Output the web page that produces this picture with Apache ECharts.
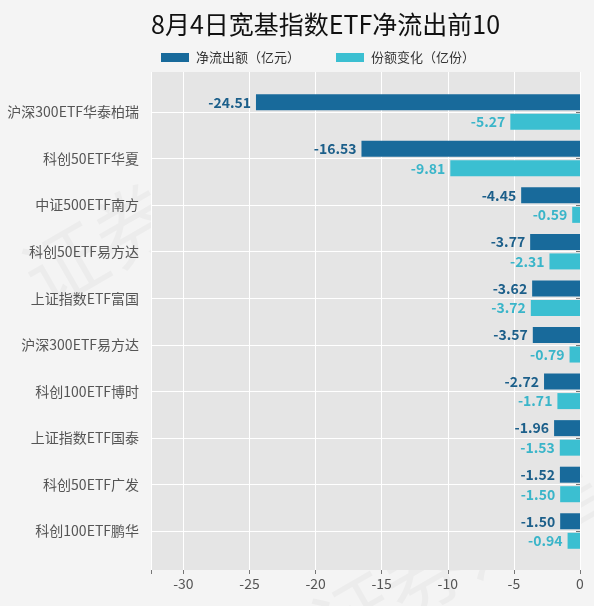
<!DOCTYPE html>
<html>
<head>
<meta charset="utf-8">
<script src="https://cdn.jsdelivr.net/npm/echarts@6/dist/echarts.min.js"></script>
<style>
  html, body { margin: 0; padding: 0; background: #f4f4f4; }
  #chart { width: 594px; height: 606px; }
</style>
</head>
<body>
<div id="chart"></div>
<script>
// 8月4日宽基指数ETF净流出前10
const categories = ['沪深300ETF华泰柏瑞', '科创50ETF华夏', '中证500ETF南方', '科创50ETF易方达', '上证指数ETF富国',
	'沪深300ETF易方达', '科创100ETF博时', '上证指数ETF国泰', '科创50ETF广发', '科创100ETF鹏华']
const netOutflow = [-24.51, -16.53, -4.45, -3.77, -3.62, -3.57, -2.72, -1.96, -1.52, -1.50]
const shareChange = [-5.27, -9.81, -0.59, -2.31, -3.72, -0.79, -1.71, -1.53, -1.50, -0.94]
const seriesNames = ['净流出额（亿元）', '份额变化（亿份）']
const xMin = -32.45
const xMax = 0

const FONT = '"Noto Sans CJK SC", "Noto Sans", sans-serif'
const DARK = '#186a9b'
const CYAN = '#3bbfd1'

const chart = echarts.init(document.getElementById('chart'))

const barLabel = (color) => ({
	show: true,
	position: 'left',
	distance: 5,
	color: color,
	fontSize: 14,
	fontWeight: 'bold',
	fontFamily: FONT,
	formatter: p => p.value.toFixed(2)
})

const option = {
	backgroundColor: '#f4f4f4',
	textStyle: { fontFamily: FONT },
	title: {
		text: '8月4日宽基指数ETF净流出前10',
		left: 146,
		top: 7,
		textStyle: { fontSize: 25, fontWeight: 'normal', color: '#111', fontFamily: FONT }
	},
	legend: {
		left: 156,
		top: 46,
		itemWidth: 28,
		itemHeight: 9,
		itemGap: 36,
		icon: 'rect',
		textStyle: { fontSize: 13, color: '#333', fontFamily: FONT, padding: [0, 0, 0, 2] },
		data: seriesNames
	},
	graphic: [
		{ type: 'text', left: 10, top: 90, rotation: Math.PI / 6, silent: true, z: -1,
			style: { text: '证券之星', fontSize: 80, fontFamily: FONT, fill: 'rgba(0,0,0,0.03)' } },
		{ type: 'text', left: 300, top: 440, rotation: Math.PI / 6, silent: true, z: -1,
			style: { text: '证券之星', fontSize: 80, fontFamily: FONT, fill: 'rgba(0,0,0,0.03)' } }
	],
	grid: [
		// panel
		{ left: 151, right: 14, top: 72, bottom: 36, show: true, backgroundColor: '#e5e5e5', borderWidth: 0 },
		// bars
		{ left: 151, right: 14, top: 88.7, bottom: 51.7 }
	],
	xAxis: [
		{
			gridIndex: 0, type: 'value', min: xMin, max: xMax,
			axisLine: { show: false },
			axisTick: { show: true, length: 4, lineStyle: { color: '#777' } },
			axisLabel: { color: '#555', fontSize: 14, margin: 7, formatter: v => (v % 5 === 0 ? String(v) : '') },
			splitLine: { show: true, lineStyle: { color: '#ffffff', width: 1 } }
		},
		{
			gridIndex: 1, type: 'value', min: xMin, max: xMax, show: false,
			splitLine: { show: false }
		}
	],
	yAxis: [
		{
			gridIndex: 0, type: 'value', show: false, splitLine: { show: false }
		},
		{
			gridIndex: 1, type: 'category', inverse: true, data: categories,
			axisLine: { show: false },
			axisTick: { show: true, length: 4, alignWithLabel: true, lineStyle: { color: '#777' } },
			axisLabel: { color: '#555', fontSize: 14, margin: 12 },
			splitLine: { show: true, alignWithLabel: true, lineStyle: { color: '#ffffff', width: 1 } }
		}
	],
	series: [
		{
			name: seriesNames[0], type: 'bar', xAxisIndex: 1, yAxisIndex: 1,
			data: netOutflow, barWidth: 16, barGap: '22%',
			itemStyle: { color: DARK },
			label: barLabel('#1c5f8a')
		},
		{
			name: seriesNames[1], type: 'bar', xAxisIndex: 1, yAxisIndex: 1,
			data: shareChange, barWidth: 16, barGap: '22%',
			itemStyle: { color: CYAN },
			label: barLabel('#3ab5c9')
		}
	]
}

chart.setOption(option)
</script>
</body>
</html>
